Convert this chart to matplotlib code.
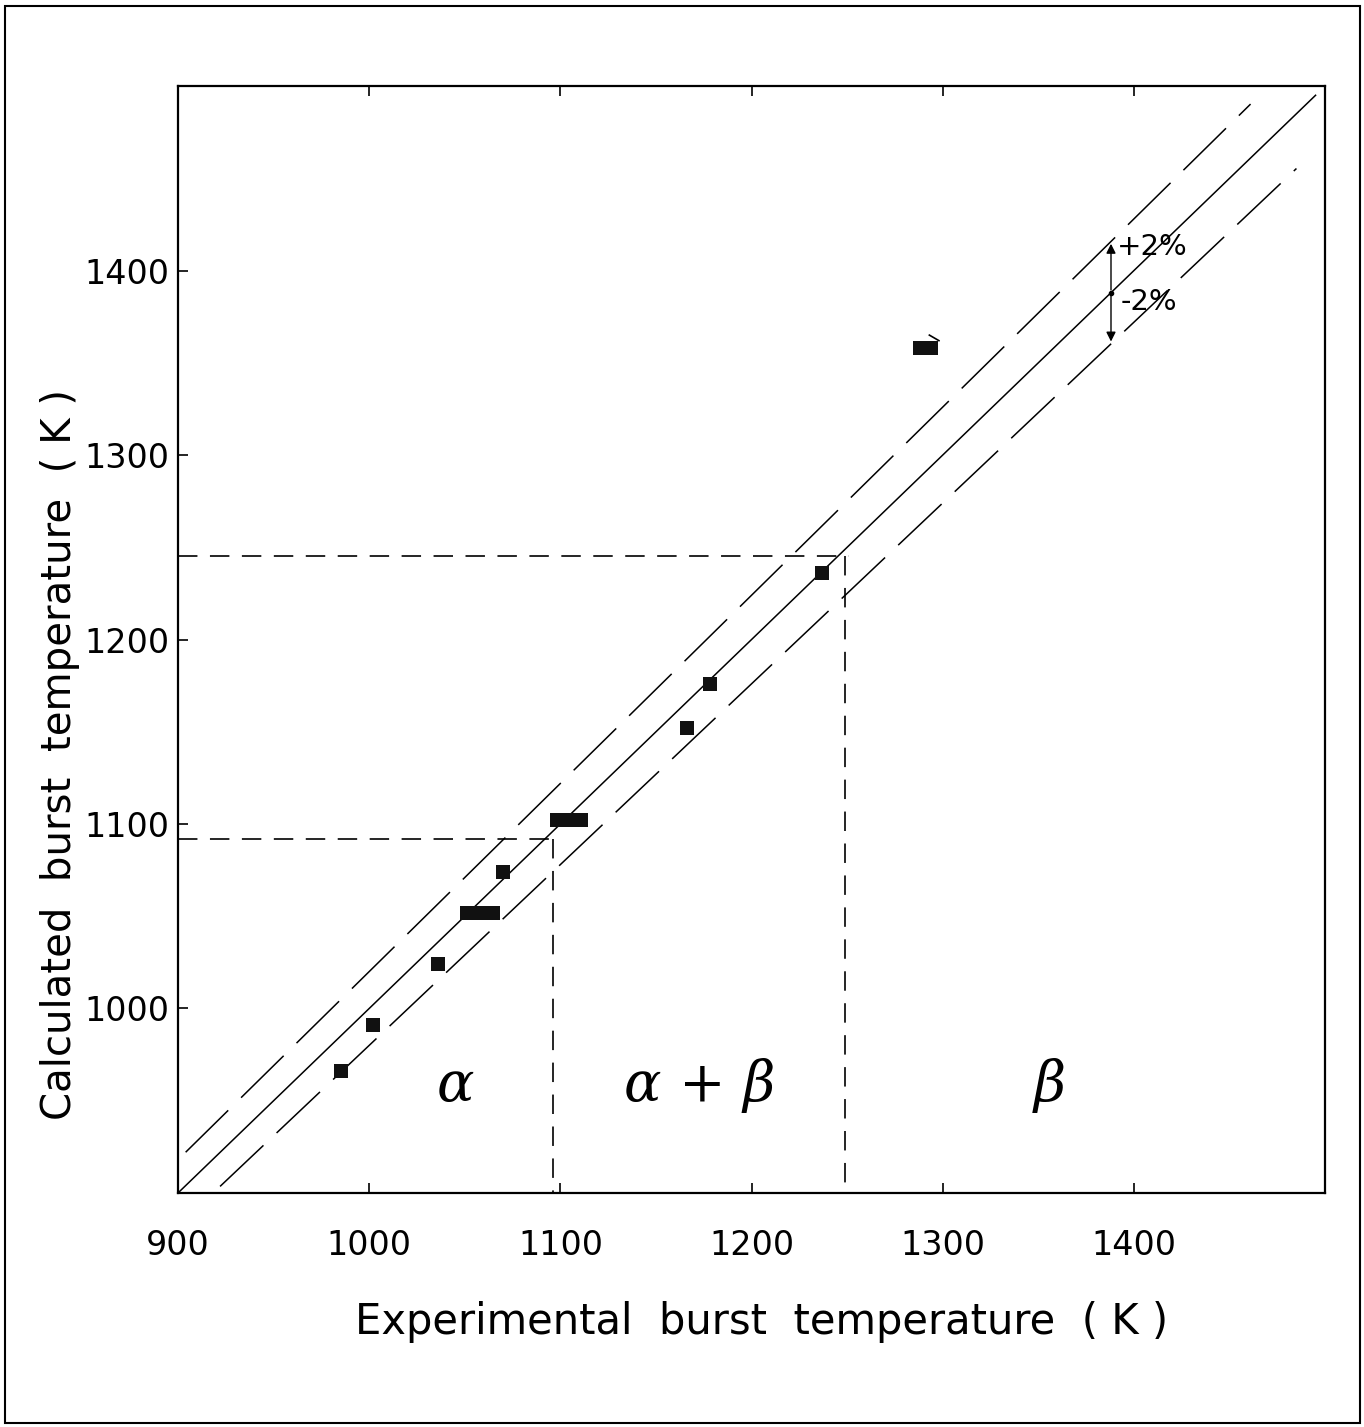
import matplotlib
matplotlib.use("Agg")
import matplotlib.pyplot as plt
from matplotlib.patches import Rectangle
import numpy as np

plt.rcParams["font.family"] = ["DejaVu Sans"]
plt.rcParams["lines.scale_dashes"] = False

# experimental vs calculated burst temperature (K)
exp_temp = [985, 1002, 1036, 1051, 1058, 1065, 1070, 1098, 1104, 1111,
            1166, 1178, 1237, 1288, 1294]
calc_temp = [966, 991, 1024, 1052, 1052, 1052, 1074, 1102, 1102, 1102,
             1152, 1176, 1236, 1358, 1358]

ticks = [900, 1000, 1100, 1200, 1300, 1400]
yticks = [1000, 1100, 1200, 1300, 1400]

# phase boundaries (from the dashed guide lines)
alpha_end = (1096, 1092)
beta_start = (1249, 1245)

fig = plt.figure(figsize=(13.64, 14.27), dpi=100)
ax = fig.add_axes([0.1305, 0.164, 0.841, 0.7757])

# 1:1 line and +-2 % band
x_line = np.array([900, 1495])
ax.plot(x_line, x_line, color="black", lw=1.1)
xu = np.array([904, 1461])
ax.plot(xu, 1.02 * xu, color="black", lw=1.1, dashes=(43, 13))
xl = np.array([922, 1485])
ax.plot(xl, 0.98 * xl, color="black", lw=1.1, dashes=(43, 13))

# phase guide lines
for bx, by in (alpha_end, beta_start):
    ax.plot([900, bx + 2], [by, by], color="black", lw=1.2, dashes=(14, 9))
    ax.plot([bx, bx], [by, 900], color="black", lw=1.2, dashes=(14, 9))

ax.plot(exp_temp, calc_temp, "s", color="#111111", ms=10.5, mew=0)
ax.plot([1293, 1298], [1365, 1362], color="black", lw=1.2)

# +-2 % marker
ax.annotate("", xy=(1388, 1416), xytext=(1388, 1388),
            arrowprops=dict(arrowstyle="-|>", color="black", lw=1.0,
                            mutation_scale=14))
ax.annotate("", xy=(1388, 1360), xytext=(1388, 1388),
            arrowprops=dict(arrowstyle="-|>", color="black", lw=1.0,
                            mutation_scale=14))
ax.plot([1388], [1388], "o", color="black", ms=3)
ax.text(1391, 1413, "+2%", fontsize=21, va="center", ha="left")
ax.text(1393, 1383, "-2%", fontsize=21, va="center", ha="left")

# phase labels
ax.text(1045, 958, "α", fontsize=40, ha="center", va="center", style="italic",
        family="DejaVu Serif")
ax.text(1173, 958, "α + β", fontsize=40, ha="center", va="center",
        style="italic", family="DejaVu Serif")
ax.text(1356, 958, "β", fontsize=40, ha="center", va="center", style="italic",
        family="DejaVu Serif")

ax.set_xlim(900, 1500)
ax.set_ylim(900, 1500)
ax.set_xticks(ticks)
ax.set_yticks(yticks)
ax.tick_params(direction="in", length=7, width=1.2, top=True, right=False,
               labelsize=24)
ax.tick_params(axis="x", pad=26)
ax.tick_params(axis="y", pad=6)
for s in ax.spines.values():
    s.set_linewidth(1.6)

fig.text(762 / 1364, 1 - 1322 / 1427, "Experimental  burst  temperature  ( K )",
         fontsize=30, ha="center", va="center")
fig.text(60 / 1364, 1 - 755 / 1427, "Calculated  burst  temperature  ( K )",
         fontsize=29, ha="center", va="center", rotation=90)

fig.patches.append(Rectangle((0.004, 0.003), 0.993, 0.993, transform=fig.transFigure,
                             fill=False, lw=1.5, color="black"))

fig.savefig("out.png", dpi=100)
